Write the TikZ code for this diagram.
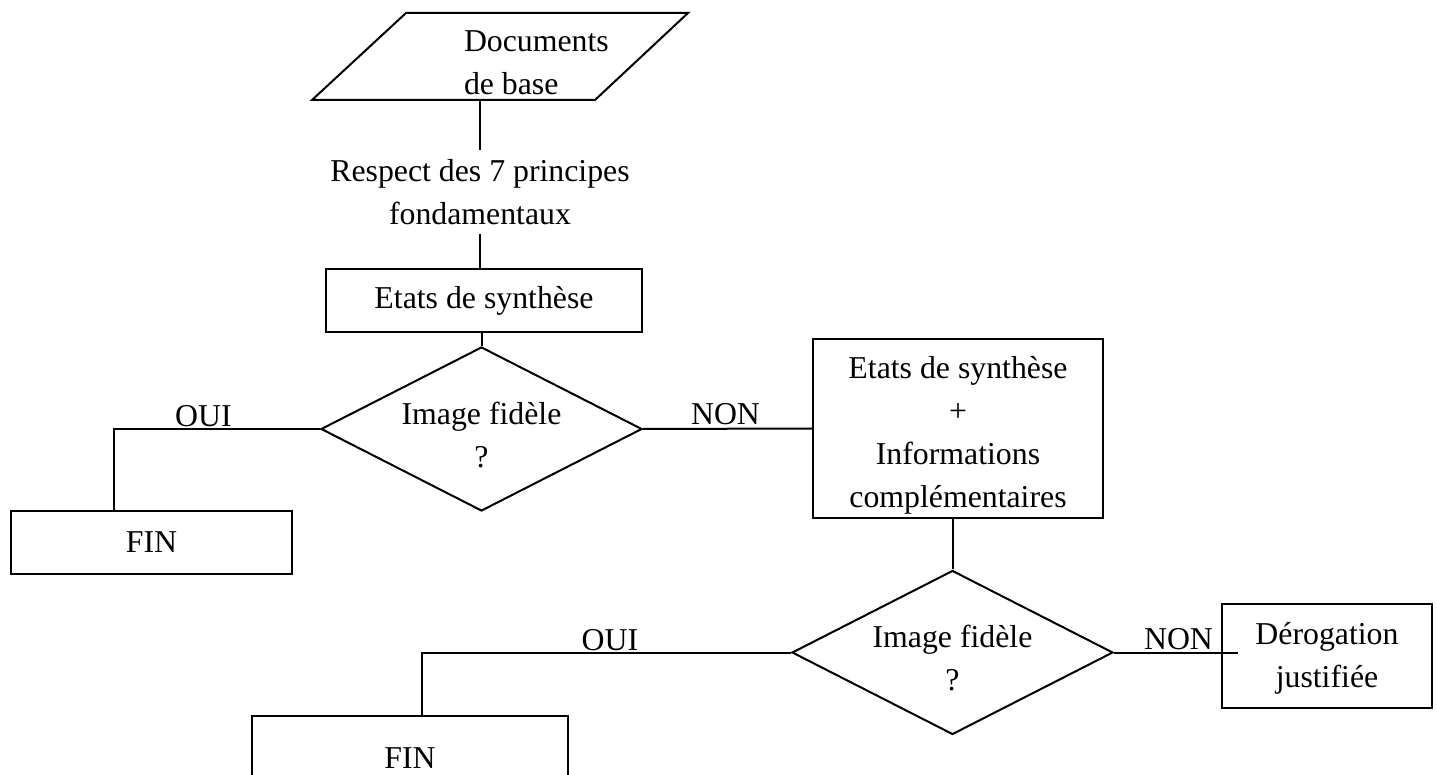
\documentclass[tikz,border=0pt]{standalone}
\usepackage{fontspec}
\setmainfont{Liberation Serif}
\usetikzlibrary{shapes.geometric}

\begin{document}
\begin{tikzpicture}[x=0.5pt, y=-0.5pt, line width=1pt,
	font=\fontsize{15.9}{21.5}\selectfont,
	box/.style={draw, rectangle, inner sep=0pt, align=center},
	test/.style={draw, diamond, aspect=1.96, inner sep=0pt, minimum width=160.5pt, minimum height=82pt, align=center},
	lbl/.style={inner sep=0pt, align=center}]
	\useasboundingbox (0,0) rectangle (1437,775);
	% documents de base
	\draw (312,100) -- (406,13) -- (688,13) -- (595,100) -- cycle;
	\node[lbl, anchor=west, align=left] (docs) at (463,62.5) {Documents\\de base};
	\coordinate (docsbot) at (480,100);
	\node[lbl, inner ysep=4pt] (resp) at (480,192) {Respect des 7 principes\\fondamentaux};
	\node[box, minimum width=158pt, minimum height=31.5pt] (etat1) at (484,300.5) {Etats de synthèse};
	\node[test] (q1) at (481.5,429) {\rule{0pt}{17pt}Image fidèle\\?};
	\node[box, minimum width=140.5pt, minimum height=31.5pt] (fin1) at (151.5,542.5) {FIN};
	\node[lbl] (oui1) at (203.5,416) {OUI};
	\node[lbl] (non1) at (725.5,414) {NON};
	\node[box, minimum width=145pt, minimum height=89.5pt] (etat2) at (958,428.5) {\rule{0pt}{18pt}Etats de synthèse\\+\\Informations\\complémentaires};
	\node[test] (q2) at (952.5,652.5) {\rule{0pt}{17pt}Image fidèle\\?};
	\node[box, minimum width=158pt, minimum height=42pt] (fin2) at (410,758) {FIN};
	\node[lbl] (oui2) at (610,640) {OUI};
	\node[lbl] (non2) at (1178.5,639) {NON};
	\node[box, minimum width=105pt, minimum height=52pt] (derog) at (1327,656) {\rule{0pt}{13pt}Dérogation\\justifiée};
	% liaisons
	\draw (docsbot) -- (resp.north);
	\draw (resp.south) -- (resp.south |- etat1.north);
	\draw (q1.north |- etat1.south) -- (q1.north);
	\draw (q1.west) -| ([xshift=-18.75pt]fin1.north);
	\draw (q1.east) -- (etat2.west);
	\draw (q2.north |- etat2.south) -- (q2.north);
	\draw (q2.west) -| ([xshift=6pt]fin2.north);
	\draw (q2.east) -- (q2.east -| derog.west) -- ++(17,0);
\end{tikzpicture}
\end{document}
